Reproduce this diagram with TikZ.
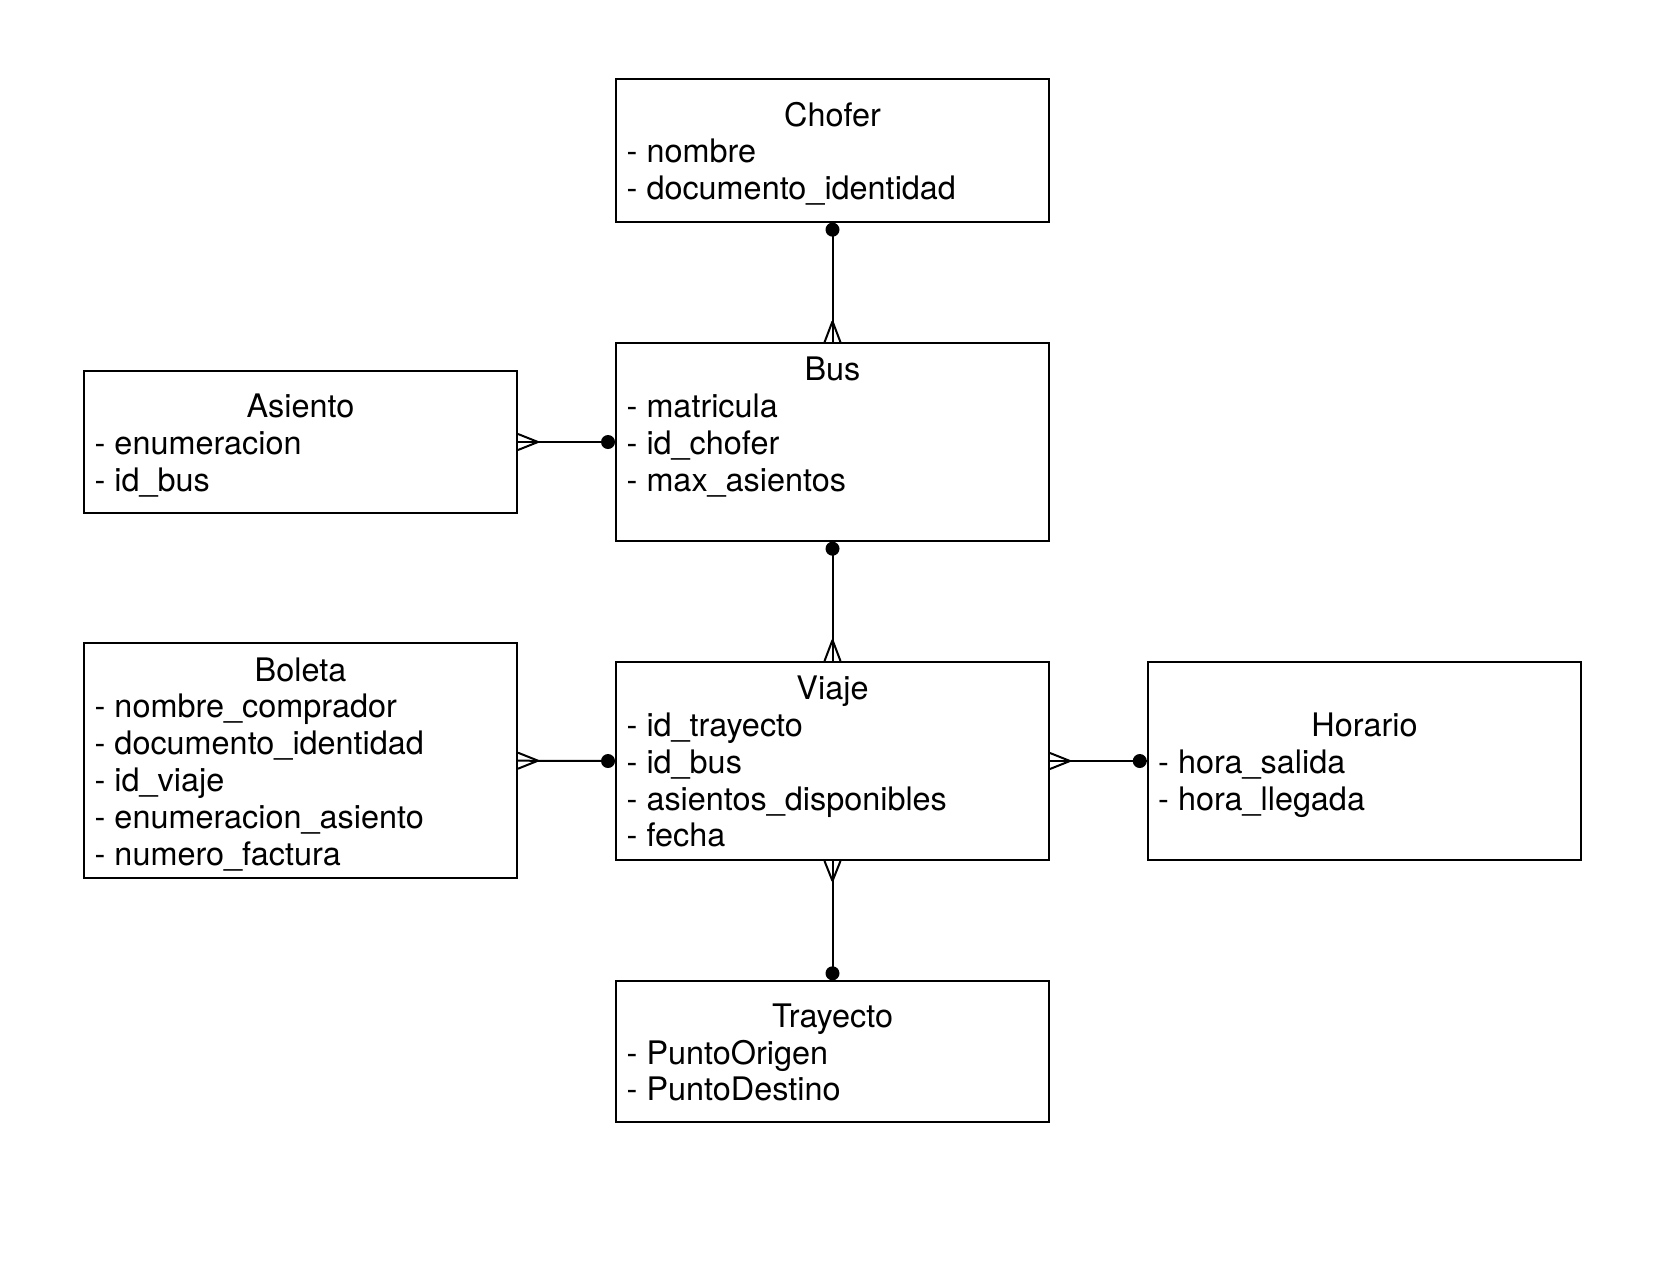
\documentclass[tikz,border=0pt]{standalone}
\usepackage{fontspec}
\setmainfont{TeX Gyre Heros}
\begin{document}
\begin{tikzpicture}[x=1pt, y=-1pt,
  font=\fontsize{32.4pt}{36.8pt}\selectfont,
  entity/.style={draw=black, line width=2pt, rectangle, inner sep=0pt,
                 minimum width=433pt},
  title/.style={inner sep=0pt, anchor=base},
  attr/.style={inner sep=0pt, anchor=base west},
  link/.style={draw=black, line width=2pt},
  dotend/.style={fill=black}
]
\useasboundingbox (0,0) rectangle (1660,1262);

% entity boxes
\node[entity, minimum height=142.3pt] (chofer)   at (832.5,150.5)  {};
\node[entity, minimum height=142.5pt] (asiento)  at (300.5,442)    {};
\node[entity, minimum height=197.4pt] (bus)      at (832.5,442)    {};
\node[entity, minimum height=234.7pt] (boleta)   at (300.5,760.7)  {};
\node[entity, minimum height=198pt]   (viaje)    at (832.5,761)    {};
\node[entity, minimum height=198pt, minimum width=433.5pt] (horario) at (1364.5,761) {};
\node[entity, minimum height=141pt]   (trayecto) at (832.5,1051.8) {};

% Chofer
\node[title] (chofer-t) at (832.5,126)   {Chofer};
\node[attr]  (chofer-1) at (626.5,162.8) {- nombre};
\node[attr]  (chofer-2) at (626.5,199.6) {- documento\_identidad};

% Asiento
\node[title] (asiento-t) at (300.5,417.5) {Asiento};
\node[attr]  (asiento-1) at (94.5,454.3)  {- enumeracion};
\node[attr]  (asiento-2) at (94.5,491.1)  {- id\_bus};

% Bus
\node[title] (bus-t) at (832.5,380.7) {Bus};
\node[attr]  (bus-1) at (626.5,417.5) {- matricula};
\node[attr]  (bus-2) at (626.5,454.3) {- id\_chofer};
\node[attr]  (bus-3) at (626.5,491.1) {- max\_asientos};

% Boleta
\node[title] (boleta-t) at (300.5,681) {Boleta};
\node[attr]  (boleta-1) at (94.5,717.8) {- nombre\_comprador};
\node[attr]  (boleta-2) at (94.5,754.6) {- documento\_identidad};
\node[attr]  (boleta-3) at (94.5,791.4) {- id\_viaje};
\node[attr]  (boleta-4) at (94.5,828.2) {- enumeracion\_asiento};
\node[attr]  (boleta-5) at (94.5,865)   {- numero\_factura};

% Viaje
\node[title] (viaje-t) at (832.5,699.7) {Viaje};
\node[attr]  (viaje-1) at (626.5,736.5) {- id\_trayecto};
\node[attr]  (viaje-2) at (626.5,773.3) {- id\_bus};
\node[attr]  (viaje-3) at (626.5,810.1) {- asientos\_disponibles};
\node[attr]  (viaje-4) at (626.5,846.9) {- fecha};

% Horario
\node[title] (horario-t) at (1364.5,736.5) {Horario};
\node[attr]  (horario-1) at (1158,773.3)   {- hora\_salida};
\node[attr]  (horario-2) at (1158,810.1)   {- hora\_llegada};

% Trayecto
\node[title] (trayecto-t) at (832.5,1027.3) {Trayecto};
\node[attr]  (trayecto-1) at (626.5,1064.1) {- PuntoOrigen};
\node[attr]  (trayecto-2) at (626.5,1100.9) {- PuntoDestino};

% relationships: line, filled dot on the "one" side, crow's foot on the "many" side
% Chofer 1 -- N Bus
\draw[link] (chofer.south) -- (bus.north);
\fill[dotend] ([yshift=-7pt]chofer.south) circle (7pt);
\draw[link] ([yshift=21pt]bus.north) -- ([xshift=-8pt]bus.north)
            ([yshift=21pt]bus.north) -- ([xshift=8pt]bus.north);

% Bus 1 -- N Asiento
\draw[link] (asiento.east) -- (bus.west);
\fill[dotend] ([xshift=-7pt]bus.west) circle (7pt);
\draw[link] ([xshift=20pt]asiento.east) -- ([yshift=8pt]asiento.east)
            ([xshift=20pt]asiento.east) -- ([yshift=-8pt]asiento.east);

% Bus 1 -- N Viaje
\draw[link] (bus.south) -- (viaje.north);
\fill[dotend] ([yshift=-7pt]bus.south) circle (7pt);
\draw[link] ([yshift=21pt]viaje.north) -- ([xshift=-8pt]viaje.north)
            ([yshift=21pt]viaje.north) -- ([xshift=8pt]viaje.north);

% Viaje 1 -- N Boleta
\draw[link] (boleta.east) -- (viaje.west);
\fill[dotend] ([xshift=-7pt]viaje.west) circle (7pt);
\draw[link] ([xshift=20pt]boleta.east) -- ([yshift=8pt]boleta.east)
            ([xshift=20pt]boleta.east) -- ([yshift=-8pt]boleta.east);

% Horario 1 -- N Viaje
\draw[link] (viaje.east) -- (horario.west);
\fill[dotend] ([xshift=-7pt]horario.west) circle (7pt);
\draw[link] ([xshift=20pt]viaje.east) -- ([yshift=8pt]viaje.east)
            ([xshift=20pt]viaje.east) -- ([yshift=-8pt]viaje.east);

% Trayecto 1 -- N Viaje
\draw[link] (viaje.south) -- (trayecto.north);
\fill[dotend] ([yshift=7pt]trayecto.north) circle (7pt);
\draw[link] ([yshift=-20pt]viaje.south) -- ([xshift=-8pt]viaje.south)
            ([yshift=-20pt]viaje.south) -- ([xshift=8pt]viaje.south);
\end{tikzpicture}
\end{document}
